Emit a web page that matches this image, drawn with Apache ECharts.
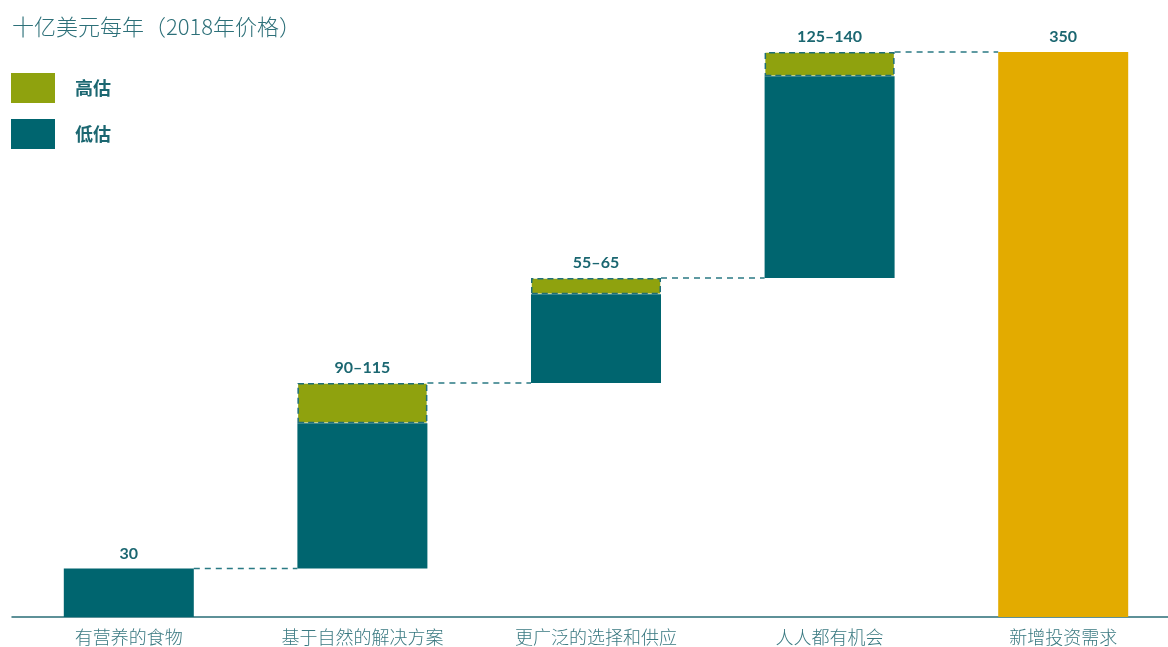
<!DOCTYPE html>
<html>
<head>
<meta charset="utf-8">
<script src="https://cdn.jsdelivr.net/npm/echarts@6/dist/echarts.min.js"></script>
<style>
  html, body { margin: 0; padding: 0; background: #fff; }
  #main { width: 1168px; height: 647px; }
</style>
</head>
<body>
<div id="main"></div>
<script>
// 数据
const categories = ['有营养的食物', '基于自然的解决方案', '更广泛的选择和供应', '人人都有机会', '新增投资需求']
const lowEst = [30, 90, 55, 125]
const highEst = [30, 115, 65, 140]
const totalValue = 350

const teal = '#00656f'
const olive = '#8fa20e'
const gold = '#e3ab00'
const textTeal = '#1b6771'

// 堆叠的起点（上一根柱子的高估顶部）
let baseData = []
let acc = 0
highEst.forEach(v => { baseData.push(acc); acc += v })
baseData.push('-')

let tops = highEst.map((v, i) => baseData[i] + v)

let lowData = lowEst.map((v, i) => {
  if (lowEst[i] === highEst[i]) {
    return { value: v, label: { show: true, formatter: String(v) } }
  }
  return v
})
lowData.push('-')

let highData = lowEst.map((v, i) => {
  if (lowEst[i] === highEst[i]) return '-'
  return { value: highEst[i] - v, label: { show: true, formatter: v + '–' + highEst[i] } }
})
highData.push('-')

let totalData = ['-', '-', '-', '-', { value: totalValue, label: { show: true, formatter: String(totalValue) } }]

// 连接虚线: [起始柱索引, 高度]
let connectData = tops.map((v, i) => [i, v])

const labelStyle = {
  position: 'top',
  distance: 7,
  color: textTeal,
  fontSize: 16,
  fontWeight: 'bold',
  fontFamily: 'Lato, "Noto Sans", sans-serif'
}
const barW = 130

let myCharts = echarts.init(document.getElementById('main'))
let option = {
  animation: false,
  title: {
    text: '十亿美元每年（2018年价格）',
    left: 7,
    top: 11,
    padding: 5,
    textStyle: {
      color: '#2d7079',
      fontSize: 22,
      fontWeight: 300,
      fontFamily: '"Noto Sans CJK SC", sans-serif'
    }
  },
  legend: {
    data: [
      { name: '高估', itemStyle: { borderWidth: 0 } },
      { name: '低估' }
    ],
    orient: 'vertical',
    left: 6,
    top: 68,
    itemWidth: 44,
    itemHeight: 30,
    itemGap: 16,
    icon: 'rect',
    selectedMode: false,
    textStyle: {
      color: textTeal,
      fontSize: 18,
      fontWeight: 'bold',
      fontFamily: '"Noto Sans CJK SC", sans-serif',
      padding: [0, 0, 0, 15]
    }
  },
  grid: {
    left: 12,
    right: -12,
    top: 52,
    bottom: 30,
    outerBoundsMode: 'none',
    containLabel: false
  },
  xAxis: {
    type: 'category',
    data: categories,
    axisLine: { lineStyle: { color: '#2a6e77', width: 1.5 } },
    axisTick: { show: false },
    axisLabel: {
      margin: 11,
      color: '#3a7981',
      fontSize: 18,
      fontFamily: '"Noto Sans CJK SC", sans-serif',
      fontWeight: 300
    }
  },
  yAxis: {
    type: 'value',
    min: 0,
    max: 350,
    show: false,
    splitLine: { show: false }
  },
  series: [
    {
      name: 'base',
      type: 'bar',
      stack: 'w',
      barWidth: barW,
      itemStyle: { color: 'transparent' },
      data: baseData
    },
    {
      name: '低估',
      type: 'bar',
      stack: 'w',
      barWidth: barW,
      itemStyle: { color: teal },
      label: labelStyle,
      data: lowData
    },
    {
      name: '高估',
      type: 'bar',
      stack: 'w',
      barWidth: barW,
      itemStyle: {
        color: olive,
        borderColor: '#1f6f79',
        borderWidth: 1.5,
        borderType: [6, 4]
      },
      label: labelStyle,
      data: highData
    },
    {
      name: 'total',
      type: 'bar',
      stack: 'w',
      barWidth: barW,
      itemStyle: { color: gold },
      label: labelStyle,
      data: totalData
    },
    {
      name: 'connector',
      type: 'custom',
      z: 1,
      data: connectData,
      renderItem: function (params, api) {
        let i = api.value(0)
        let p = api.coord([i, api.value(1)])
        let band = api.size([1, 0])[0]
        return {
          type: 'line',
          shape: {
            x1: p[0] + barW / 2,
            y1: p[1],
            x2: p[0] + band - barW / 2,
            y2: p[1]
          },
          style: {
            stroke: '#2a7a84',
            lineWidth: 1.5,
            lineDash: [6, 5]
          }
        }
      }
    }
  ]
}
myCharts.setOption(option)
</script>
</body>
</html>
